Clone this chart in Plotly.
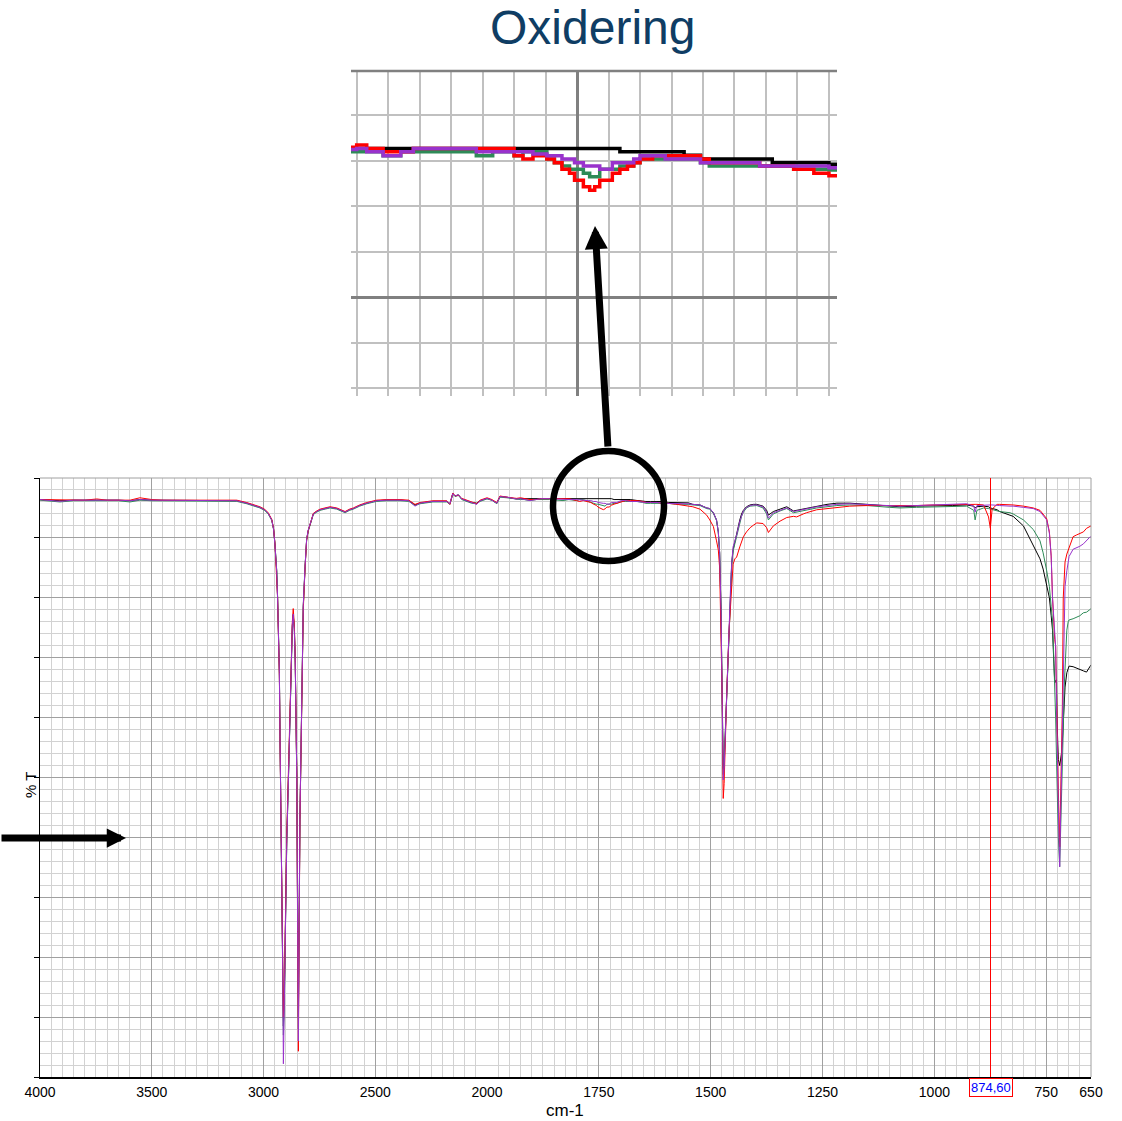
import plotly.graph_objects as go

# ---------------- data ----------------
# 4000-2031 cm-1 (compressed part of the axis)
wn_high = [4000, 3950, 3911, 3850, 3800, 3746, 3700, 3650, 3597, 3553,
           3500, 3450, 3400, 3350, 3300, 3250, 3200, 3150, 3120, 3075,
           3040, 3016, 2995, 2979, 2963, 2955, 2949, 2941, 2937, 2934,
           2929, 2926, 2919, 2914, 2911, 2907, 2896, 2886, 2878, 2871,
           2867, 2862, 2858, 2851, 2847, 2844, 2837, 2829, 2822, 2814,
           2807, 2800, 2792, 2777, 2762, 2747, 2725, 2702, 2672, 2650,
           2635, 2615, 2598, 2570, 2538, 2494, 2450, 2389, 2350, 2322,
           2300, 2242, 2180, 2166, 2153, 2143, 2128, 2113, 2091, 2070,
           2046, 2031]

black_high = [96.4, 96.3, 96.2, 96.3, 96.3, 96.4, 96.3, 96.3, 96.2, 96.4,
              96.3, 96.3, 96.3, 96.3, 96.3, 96.3, 96.3, 96.3, 96.2, 95.8,
              95.4, 95.1, 94.7, 94.1, 93.0, 91.5, 89.1, 84.6, 80.2, 75.8,
              67.9, 56.8, 37.5, 19.0, 8.5, 13.0, 39.5, 53.5, 66.2, 75.4,
              77.2, 75.0, 69.5, 50.5, 25.0, 10.0, 43.0, 62.5, 78.5, 85.2,
              89.7, 91.2, 92.3, 94.0, 94.4, 94.7, 94.9, 95.1, 94.9, 94.6,
              94.3, 94.7, 94.9, 95.4, 95.8, 96.2, 96.3, 96.3, 96.2, 95.5,
              95.8, 96.1, 96.1, 95.7, 97.4, 97.0, 97.2, 96.5, 96.2, 95.9,
              95.8, 96.2]

green_high = [96.3, 96.2, 96.0, 96.2, 96.2, 96.3, 96.2, 96.2, 96.0, 96.3,
              96.2, 96.2, 96.1, 96.2, 96.2, 96.2, 96.2, 96.2, 96.1, 95.7,
              95.3, 95.0, 94.6, 94.0, 92.9, 91.4, 89.0, 84.5, 80.0, 75.5,
              67.5, 56.5, 37.0, 18.5, 7.0, 12.0, 39.0, 53.0, 66.0, 75.2,
              77.0, 74.8, 69.2, 50.0, 24.0, 8.0, 43.2, 62.6, 78.6, 85.2,
              89.7, 91.1, 92.2, 93.9, 94.3, 94.6, 94.8, 95.0, 94.8, 94.5,
              94.2, 94.6, 94.8, 95.3, 95.7, 96.1, 96.2, 96.2, 96.1, 95.4,
              95.7, 96.0, 96.0, 95.6, 97.3, 96.9, 97.1, 96.4, 96.1, 95.8,
              95.7, 96.1]

red_high = [96.4, 96.4, 96.3, 96.4, 96.3, 96.5, 96.3, 96.3, 96.3, 96.7,
            96.4, 96.3, 96.3, 96.3, 96.4, 96.3, 96.3, 96.3, 96.3, 95.9,
            95.5, 95.2, 94.8, 94.2, 93.1, 91.6, 89.2, 84.4, 80.0, 75.0,
            67.0, 56.0, 38.0, 20.0, 10.0, 14.0, 40.5, 54.5, 67.0, 76.0,
            78.2, 75.5, 70.0, 50.0, 22.0, 4.3, 43.0, 62.0, 78.0, 85.0,
            89.6, 91.2, 92.3, 94.1, 94.5, 94.8, 95.0, 95.2, 95.0, 94.7,
            94.4, 94.8, 95.0, 95.5, 95.9, 96.3, 96.4, 96.4, 96.3, 95.6,
            95.9, 96.2, 96.2, 95.6, 97.5, 97.0, 97.1, 96.6, 96.3, 96.0,
            95.7, 96.3]

purple_high = [96.4, 96.3, 96.1, 96.3, 96.3, 96.4, 96.3, 96.3, 96.2, 96.4,
               96.3, 96.3, 96.2, 96.3, 96.3, 96.3, 96.3, 96.3, 96.2, 95.8,
               95.4, 95.1, 94.7, 94.1, 93.0, 91.5, 89.0, 84.4, 80.0, 75.5,
               67.5, 56.4, 37.1, 17.9, 2.2, 11.5, 39.1, 53.3, 66.0, 75.6,
               77.3, 74.5, 69.3, 49.9, 24.3, 6.0, 43.6, 62.8, 78.9, 85.3,
               89.8, 91.3, 92.3, 94.0, 94.4, 94.7, 94.9, 95.1, 94.9, 94.6,
               94.3, 94.7, 94.9, 95.4, 95.8, 96.2, 96.3, 96.3, 96.2, 95.3,
               95.8, 96.1, 96.1, 95.7, 97.4, 97.0, 97.2, 96.5, 96.2, 95.9,
               95.6, 96.2]

# 2000-650 cm-1 (expanded part of the axis)
wn_low = [2000, 1989, 1978, 1971, 1956, 1934, 1925, 1917, 1904, 1890,
          1880, 1860, 1830, 1817, 1800, 1793, 1785, 1774, 1768, 1762,
          1756, 1752, 1745, 1740, 1736, 1732, 1727, 1722, 1716, 1710,
          1705, 1700, 1690, 1680, 1665, 1652, 1645, 1635, 1620, 1605,
          1595, 1578, 1562, 1550, 1540, 1524, 1509, 1502, 1494, 1487,
          1483, 1480, 1477, 1474, 1473, 1472, 1470, 1468, 1464, 1459,
          1455, 1453, 1450, 1446, 1442, 1435, 1431, 1427, 1420, 1412,
          1405, 1397, 1383, 1375, 1371, 1365, 1360, 1345, 1330, 1315,
          1308, 1293, 1286, 1263, 1240, 1218, 1189, 1150, 1100, 1077,
          1040, 1003, 960, 928, 912, 909, 905, 890, 879, 875,
          871, 860, 854, 831, 824, 801, 779, 764, 757, 749,
          743, 739, 736, 733, 731, 729, 727, 726, 723, 720,
          716, 714, 712, 710, 708, 704, 701, 699, 690, 682,
          675, 667, 660, 653, 650]

black_low = [96.6, 96.3, 95.8, 96.9, 96.8, 96.5, 96.55, 96.55, 96.55, 96.55,
             96.55, 96.55, 96.55, 96.55, 96.55, 96.55, 96.55, 96.55, 96.55, 96.55,
             96.55, 96.55, 96.55, 96.55, 96.55, 96.55, 96.55, 96.55, 96.40, 96.40,
             96.40, 96.40, 96.40, 96.40, 96.25, 96.08, 96.08, 96.08, 96.08, 96.08,
             95.92, 95.92, 95.92, 95.85, 95.6, 95.5, 95.0, 94.9, 94.2, 93.0,
             91.0, 87.5, 78.0, 64.0, 54.0, 51.5, 52.5, 56.5, 65.5, 76.5,
             83.5, 85.8, 88.0, 89.5, 91.0, 93.0, 94.0, 94.6, 95.2, 95.5,
             95.6, 95.6, 95.3, 94.6, 93.8, 94.1, 94.4, 94.8, 95.2, 94.5,
             94.6, 94.9, 95.0, 95.3, 95.6, 95.8, 95.8, 95.6, 95.3, 95.2,
             95.3, 95.3, 95.4, 95.5, 95.3, 95.0, 95.2, 95.3, 95.2, 95.0,
             94.9, 94.7, 94.4, 93.8, 93.6, 92.0, 88.7, 86.5, 84.8, 82.3,
             80.0, 77.0, 74.6, 69.1, 65.8, 66.2, 66.3, 59.6, 53.0, 52.0,
             54.0, 56.0, 59.1, 63.0, 65.1, 67.5, 68.4, 68.6, 68.5, 68.3,
             68.0, 67.8, 67.6, 68.6, 68.8]

green_low = [96.5, 96.3, 95.7, 96.8, 96.7, 96.4, 96.40, 96.40, 96.23, 96.40,
             96.40, 96.40, 96.23, 96.40, 96.23, 96.40, 96.40, 96.08, 95.92, 95.77,
             95.63, 95.63, 95.45, 95.30, 95.30, 95.63, 95.63, 95.63, 95.77, 95.77,
             95.92, 96.08, 96.08, 96.08, 96.08, 95.92, 95.77, 95.77, 95.77, 95.77,
             95.77, 95.63, 95.63, 95.6, 95.5, 95.4, 94.9, 94.8, 94.1, 92.9,
             91.0, 87.5, 78.0, 63.5, 53.0, 50.5, 52.0, 56.0, 65.0, 76.0,
             83.0, 85.5, 87.8, 89.0, 90.5, 92.6, 93.6, 94.3, 95.0, 95.3,
             95.4, 95.4, 95.0, 94.0, 93.0, 93.6, 94.0, 94.5, 94.9, 94.2,
             94.3, 94.6, 94.7, 95.0, 95.2, 95.4, 95.5, 95.4, 95.1, 95.0,
             95.1, 95.2, 95.2, 95.3, 94.6, 93.0, 94.6, 95.0, 94.9, 94.8,
             94.7, 94.5, 94.4, 94.2, 94.0, 93.0, 91.4, 89.5, 87.5, 84.5,
             81.9, 78.5, 76.3, 69.5, 66.0, 60.0, 52.9, 48.0, 40.0, 35.1,
             45.0, 49.6, 58.0, 65.0, 69.1, 74.6, 76.0, 76.3, 76.5, 76.8,
             77.0, 77.5, 77.6, 78.0, 78.2]

red_low = [96.7, 96.4, 95.9, 97.0, 96.8, 96.6, 96.70, 96.55, 96.40, 96.40,
           96.55, 96.55, 96.55, 96.55, 96.23, 96.08, 96.23, 96.08, 95.92, 95.63,
           95.45, 95.15, 94.86, 94.71, 94.86, 95.15, 95.15, 95.45, 95.63, 95.77,
           95.92, 96.08, 96.23, 96.23, 96.23, 96.08, 95.92, 95.92, 95.92, 95.77,
           95.77, 95.63, 95.45, 95.35, 95.2, 94.8, 93.8, 93.0, 91.9, 89.5,
           88.0, 85.0, 76.0, 62.0, 51.6, 46.5, 49.0, 55.5, 64.5, 74.5,
           80.5, 83.5, 85.6, 86.5, 86.8, 88.5, 89.4, 90.2, 91.0, 91.7,
           92.1, 92.5, 92.4, 91.7, 90.9, 91.5, 92.0, 92.8, 93.4, 93.6,
           93.5, 94.0, 94.2, 94.7, 94.9, 95.1, 95.3, 95.4, 95.4, 95.3,
           95.4, 95.5, 95.6, 95.6, 95.6, 95.6, 95.6, 95.5, 93.5, 91.6,
           94.8, 95.6, 95.6, 95.6, 95.5, 95.3, 95.0, 94.6, 94.0, 93.2,
           91.0, 87.0, 80.0, 75.0, 73.0, 72.0, 62.0, 58.0, 48.0, 38.4,
           55.0, 62.0, 80.0, 84.6, 86.0, 87.3, 88.0, 88.5, 90.2, 90.5,
           90.8, 91.0, 91.6, 91.9, 92.0]

purple_low = [96.6, 96.3, 95.8, 96.9, 96.8, 96.5, 96.55, 96.40, 96.23, 96.40,
              96.55, 96.55, 96.40, 96.40, 96.40, 96.40, 96.30, 96.23, 96.23, 96.08,
              96.08, 95.92, 95.77, 95.77, 95.77, 95.63, 95.63, 95.92, 95.92, 95.92,
              96.08, 96.23, 96.23, 96.08, 96.08, 95.92, 95.92, 95.92, 95.92, 95.77,
              95.77, 95.77, 95.77, 95.7, 95.6, 95.5, 95.0, 94.9, 94.2, 93.0,
              91.0, 87.5, 78.0, 63.5, 53.0, 49.6, 51.5, 56.0, 65.0, 76.0,
              83.0, 85.8, 88.5, 89.5, 90.5, 92.8, 93.8, 94.5, 95.1, 95.4,
              95.5, 95.5, 95.2, 94.3, 93.3, 93.8, 94.2, 94.6, 95.0, 94.4,
              94.5, 94.8, 94.9, 95.2, 95.4, 95.6, 95.7, 95.6, 95.4, 95.3,
              95.4, 95.5, 95.6, 95.7, 95.3, 94.3, 95.4, 95.5, 95.5, 95.5,
              95.5, 95.5, 95.4, 95.3, 95.3, 95.1, 94.9, 94.4, 93.8, 93.0,
              90.8, 86.9, 80.0, 76.0, 74.6, 71.8, 62.0, 55.1, 45.0, 35.1,
              49.6, 55.0, 66.3, 75.0, 81.9, 84.5, 86.4, 86.9, 88.1, 88.3,
              88.6, 89.0, 89.6, 90.1, 90.2]

ticks_high = [4000, 3500, 3000, 2500]
ticks_low = [2000, 1750, 1500, 1250, 1000, 750, 650]
cursor_wn = 874.60
cursor_label = "874,60"
inset_range = (1929.5, 1543.6)

series = [
    ("black", black_high, black_low, "#000000"),
    ("green", green_high, green_low, "#2e8b57"),
    ("red", red_high, red_low, "#ff0000"),
    ("purple", purple_high, purple_low, "#9932cc"),
]

# ---------------- geometry helpers (pixels -> paper) ----------------
W, H = 1122, 1121
def px(x):
    return x / W
def py(y):
    return 1 - y / H

fig = go.Figure()

for name, hi, lo, col in series:
    fig.add_trace(go.Scatter(
        x=wn_high + [wn_low[0]], y=hi + [lo[0]], xaxis="x", yaxis="y",
        mode="lines", line=dict(color=col, width=1), name=name,
        showlegend=False, hoverinfo="skip"))
    fig.add_trace(go.Scatter(
        x=wn_low, y=lo, xaxis="x2", yaxis="y",
        mode="lines", line=dict(color=col, width=1), name=name,
        showlegend=False, hoverinfo="skip"))

for name, hi, lo, col in series:
    sel = [i for i, w in enumerate(wn_low) if 1535 <= w <= 1935]
    fig.add_trace(go.Scatter(
        x=[wn_low[i] for i in sel], y=[lo[i] for i in sel],
        xaxis="x3", yaxis="y3", mode="lines",
        line=dict(color=col, width=3.5, shape="hv"), name=name,
        showlegend=False, hoverinfo="skip"))

major_col = "#a0a0a0"
minor_col = "#d2d2d2"
sans = "Liberation Sans, Arial, sans-serif"
tick_font = dict(family=sans, size=14, color="#000000")

x_split = px(487)
common_x = dict(anchor="y", showline=True, linecolor="black", linewidth=1.5,
                ticks="outside", ticklen=1, tickcolor="rgba(0,0,0,0)",
                tickfont=tick_font, showgrid=True, gridcolor=major_col, gridwidth=1,
                zeroline=False, fixedrange=True, automargin=False)

fig.update_layout(
    width=W, height=H, margin=dict(l=0, r=0, t=0, b=0, autoexpand=False),
    paper_bgcolor="white", plot_bgcolor="white", showlegend=False,
    xaxis=dict(domain=[px(40), x_split], range=[4000, 2000],
               tickmode="array", tickvals=ticks_high, ticktext=[str(t) for t in ticks_high],
               minor=dict(tickmode="linear", tick0=0, dtick=50, showgrid=True,
                          gridcolor=minor_col, gridwidth=1),
               **common_x),
    xaxis2=dict(domain=[x_split, px(1091)], range=[2000, 650],
                tickmode="array", tickvals=ticks_low, ticktext=[str(t) for t in ticks_low],
                minor=dict(tickmode="linear", tick0=0, dtick=25, showgrid=True,
                           gridcolor=minor_col, gridwidth=1),
                **common_x),
    yaxis=dict(domain=[py(1077), py(478)], range=[0, 100], anchor="x",
               tickmode="linear", tick0=0, dtick=10, showticklabels=False,
               ticks="outside", ticklen=5, tickcolor="black",
               showgrid=True, gridcolor=major_col, gridwidth=1,
               minor=dict(tickmode="linear", tick0=0, dtick=2, showgrid=True,
                          gridcolor=minor_col, gridwidth=1),
               showline=True, linecolor="black", linewidth=1, zeroline=False,
               fixedrange=True, automargin=False),
    xaxis3=dict(domain=[px(351), px(837)], range=list(inset_range), anchor="y3",
                tickmode="array", tickvals=[1750], showticklabels=False, ticks="",
                showgrid=True, gridcolor="#808080", gridwidth=2.5,
                minor=dict(tickmode="linear", tick0=0, dtick=25, showgrid=True,
                           gridcolor="#c0c0c0", gridwidth=2),
                showline=False, zeroline=False, fixedrange=True, automargin=False),
    yaxis3=dict(domain=[py(396), py(70)], range=[85.65, 100], anchor="x3",
                tickmode="array", tickvals=[90], showticklabels=False, ticks="",
                showgrid=True, gridcolor="#808080", gridwidth=2.5,
                minor=dict(tickmode="linear", tick0=0, dtick=2, showgrid=True,
                           gridcolor="#c0c0c0", gridwidth=2),
                showline=False, zeroline=False, fixedrange=True, automargin=False),
)

shapes = [
    # main frame top & right (grey)
    dict(type="line", xref="paper", yref="paper", x0=px(40), x1=px(1091),
         y0=py(478), y1=py(478), line=dict(color=major_col, width=1)),
    dict(type="line", xref="paper", yref="paper", x0=px(1091), x1=px(1091),
         y0=py(1077), y1=py(478), line=dict(color=major_col, width=1)),
    # inset top border
    dict(type="line", xref="paper", yref="paper", x0=px(351), x1=px(837),
         y0=py(71), y1=py(71), line=dict(color="#808080", width=2.5)),
    # cursor line
    dict(type="line", xref="x2", yref="y domain", x0=cursor_wn, x1=cursor_wn,
         y0=0, y1=1, line=dict(color="#ff0000", width=1)),
    # circle highlight
    dict(type="circle", xref="paper", yref="paper", x0=px(553), x1=px(664),
         y0=py(561), y1=py(451), line=dict(color="black", width=6.5)),
]
fig.update_layout(shapes=shapes)

annotations = [
    dict(text="Oxidering", xref="paper", yref="paper", x=px(592), y=py(28),
         showarrow=False, xanchor="center", yanchor="middle",
         font=dict(family=sans, size=48, color="#0f3d64")),
    dict(text="cm-1", xref="paper", yref="paper", x=px(565), y=py(1110),
         showarrow=False, xanchor="center", yanchor="middle",
         font=dict(family=sans, size=17, color="#000000")),
    dict(text="% T", xref="paper", yref="paper", x=px(30), y=py(785),
         showarrow=False, textangle=-90, xanchor="center", yanchor="middle",
         font=dict(family=sans, size=15, color="#000000")),
    dict(text=cursor_label, xref="x2", yref="paper", x=cursor_wn, y=py(1087),
         showarrow=False, xanchor="center", yanchor="middle",
         bgcolor="white", bordercolor="#ff0000", borderwidth=1, borderpad=1,
         font=dict(family=sans, size=13, color="#0000ff")),
    # big arrow pointing up to the inset
    dict(text="", xref="paper", yref="paper", x=px(595), y=py(226),
         ax=13, ay=222, showarrow=True, arrowhead=2, arrowsize=0.66,
         arrowwidth=7, arrowcolor="black", standoff=0),
    # left arrow
    dict(text="", xref="paper", yref="paper", x=px(126), y=py(838),
         ax=-130, ay=0, showarrow=True, arrowhead=2, arrowsize=0.55,
         arrowwidth=7, arrowcolor="black", standoff=0),
]
fig.update_layout(annotations=annotations)

fig.write_html("out.html", config={"displayModeBar": False},
               post_script="document.body.style.margin='0';document.body.style.overflow='hidden';")
